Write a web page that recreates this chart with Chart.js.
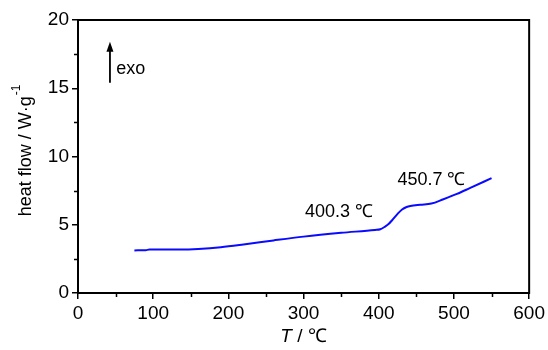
<!DOCTYPE html>
<html>
<head>
<meta charset="utf-8">
<script src="https://cdn.jsdelivr.net/npm/chart.js@4/dist/chart.umd.min.js"></script>
<style>
  body { margin: 0; background: #fff; }
  #c { display: block; }
</style>
</head>
<body>
<canvas id="c" width="548" height="350"></canvas>
<script>
// DSC curve
const temps = [75, 90, 95, 135, 160, 190, 220, 260, 300, 350, 395, 402, 408, 413, 418, 425, 431, 437, 442, 455, 470, 486, 504, 521, 550]
const heatFlow = [3.12, 3.14, 3.18, 3.19, 3.23, 3.35, 3.55, 3.85, 4.13, 4.41, 4.62, 4.67, 4.85, 5.05, 5.35, 5.8, 6.12, 6.3, 6.38, 6.47, 6.55, 6.87, 7.26, 7.68, 8.41]
const xTicks = [0, 100, 200, 300, 400, 500, 600]
const yTicks = [0, 5, 10, 15, 20]
const xMinor = [50, 150, 250, 350, 450, 550]
const yMinor = [2.5, 7.5, 12.5, 17.5]
const peakLabels = ['400.3 ℃', '450.7 ℃']

const FONT = "'Liberation Sans', Arial, sans-serif"

const extras = {
    id: 'extras',
    afterDraw(chart) {
        const ctx = chart.ctx
        const a = chart.chartArea
        const xs = chart.scales.x
        const ys = chart.scales.y
        ctx.save()

        // frame
        ctx.strokeStyle = '#000'
        ctx.lineWidth = 2
        ctx.strokeRect(a.left, a.top, a.right - a.left, a.bottom - a.top)

        // minor ticks
        ctx.lineWidth = 1.5
        ctx.beginPath()
        xMinor.forEach(v => {
            const px = Math.round(xs.getPixelForValue(v)) + 0.5
            ctx.moveTo(px, a.bottom)
            ctx.lineTo(px, a.bottom + 4)
        })
        yMinor.forEach(v => {
            const py = Math.round(ys.getPixelForValue(v)) + 0.5
            ctx.moveTo(a.left, py)
            ctx.lineTo(a.left - 4, py)
        })
        ctx.stroke()

        // exo arrow
        const ax = xs.getPixelForValue(42.5)
        const ay0 = ys.getPixelForValue(15.4)
        const ay1 = ys.getPixelForValue(18.4)
        ctx.lineWidth = 1.8
        ctx.beginPath()
        ctx.moveTo(ax, ay0)
        ctx.lineTo(ax, ay1 + 6)
        ctx.stroke()
        ctx.fillStyle = '#000'
        ctx.beginPath()
        ctx.moveTo(ax, ay1)
        ctx.lineTo(ax - 3.5, ay1 + 10)
        ctx.lineTo(ax + 3.5, ay1 + 10)
        ctx.closePath()
        ctx.fill()

        ctx.font = '18px ' + FONT
        ctx.textBaseline = 'middle'
        ctx.textAlign = 'left'
        ctx.fillText('exo', xs.getPixelForValue(51), ys.getPixelForValue(16.4))

        // peak temperatures
        ctx.textAlign = 'center'
        ctx.fillText(peakLabels[0], xs.getPixelForValue(347), ys.getPixelForValue(5.95))
        ctx.fillText(peakLabels[1], xs.getPixelForValue(470), ys.getPixelForValue(8.3))

        // x title: T / ℃ with italic T
        const t1 = 'T'
        const t2 = ' / ℃'
        ctx.font = 'italic 19px ' + FONT
        const w1 = ctx.measureText(t1).width
        ctx.font = '19px ' + FONT
        const w2 = ctx.measureText(t2).width
        const cx = (a.left + a.right) / 2
        const ty = 337
        ctx.textAlign = 'left'
        ctx.font = 'italic 19px ' + FONT
        ctx.fillText(t1, cx - (w1 + w2) / 2, ty)
        ctx.font = '19px ' + FONT
        ctx.fillText(t2, cx - (w1 + w2) / 2 + w1, ty)

        // y title with superscript
        ctx.translate(26, 151)
        ctx.rotate(-Math.PI / 2)
        const main = 'heat flow / W·g'
        const sup = '-1'
        ctx.font = '18px ' + FONT
        const wm = ctx.measureText(main).width
        ctx.font = '12px ' + FONT
        const ws = ctx.measureText(sup).width
        const sx = -(wm + ws) / 2
        ctx.font = '18px ' + FONT
        ctx.fillText(main, sx, 0)
        ctx.font = '12px ' + FONT
        ctx.fillText(sup, sx + wm + 1, -9)

        ctx.restore()
    }
}

new Chart(document.getElementById('c'), {
    type: 'line',
    data: {
        datasets: [{
            data: temps.map((t, i) => ({ x: t, y: heatFlow[i] })),
            borderColor: '#0a0aff',
            borderWidth: 2,
            pointRadius: 0,
            fill: false,
            cubicInterpolationMode: 'monotone'
        }]
    },
    options: {
        responsive: false,
        animation: false,
        devicePixelRatio: 1,
        layout: { padding: { top: 20, right: 15, left: 0, bottom: 0 } },
        plugins: { legend: { display: false }, tooltip: { enabled: false } },
        scales: {
            x: {
                type: 'linear',
                min: 0,
                max: 600,
                afterBuildTicks: s => { s.ticks = xTicks.map(v => ({ value: v })) },
                afterFit: s => { s.height = 57 },
                grid: { drawOnChartArea: false, drawTicks: true, tickLength: 6, color: '#000', lineWidth: 1.5 },
                border: { display: true, color: '#000', width: 2 },
                ticks: { color: '#000', padding: 3, font: { family: FONT, size: 19 }, maxRotation: 0 }
            },
            y: {
                min: 0,
                max: 20,
                afterBuildTicks: s => { s.ticks = yTicks.map(v => ({ value: v })) },
                afterFit: s => { s.width = 78 },
                grid: { drawOnChartArea: false, drawTicks: true, tickLength: 6, color: '#000', lineWidth: 1.5 },
                border: { display: true, color: '#000', width: 2 },
                ticks: { color: '#000', padding: 3, font: { family: FONT, size: 19 } }
            }
        }
    },
    plugins: [extras]
})
</script>
</body>
</html>
